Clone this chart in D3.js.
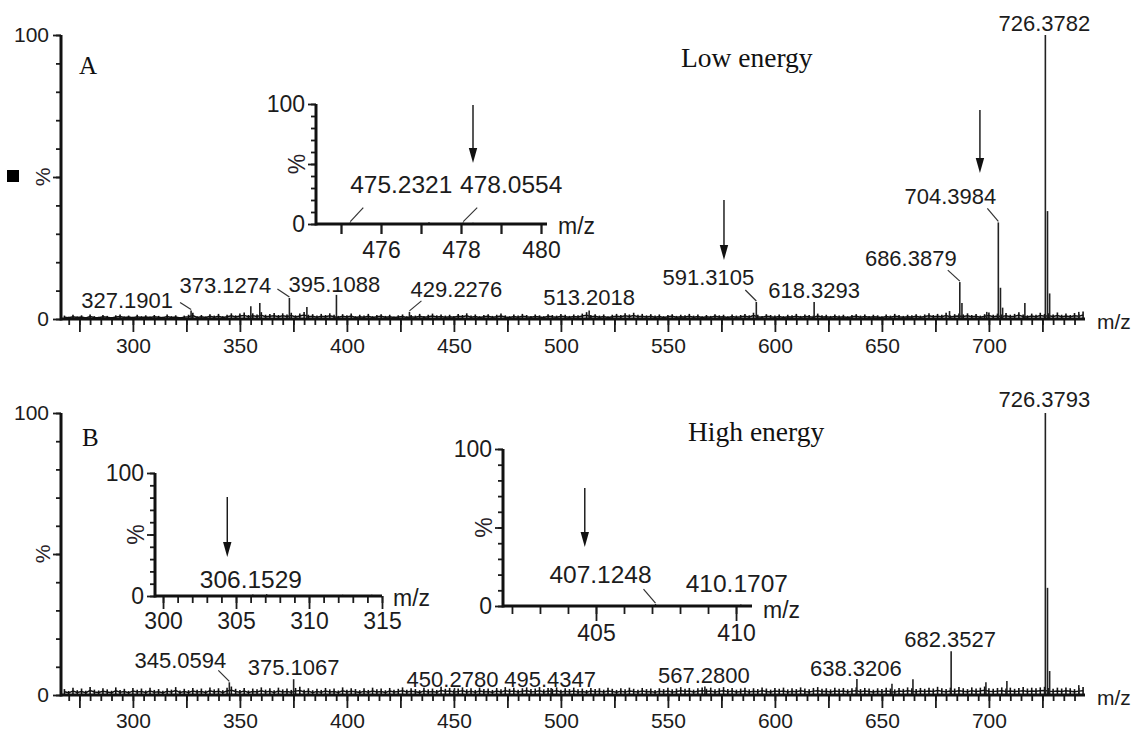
<!DOCTYPE html>
<html><head><meta charset="utf-8">
<script src="https://cdn.jsdelivr.net/npm/d3@7"></script>
<style>body{margin:0;background:#fff}</style>
</head><body><svg id="c" width="1134" height="731"></svg>
<script>
// ---------------- DATA ----------------
const mainTickLabels = [300,350,400,450,500,550,600,650,700];
const noiseStartMz = 268, noiseStepMz = 2;
const noiseA = [
1.2,0.8,1.5,0.9,1.3,0.7,1.6,1.0,0.8,1.4,
1.1,0.7,1.3,1.6,0.9,1.2,0.8,1.5,1.0,1.3,
0.9,1.4,1.1,0.8,1.6,1.0,1.3,0.7,1.2,1.5,
2.2,1.0,1.4,0.9,1.7,1.2,1.8,1.0,1.5,2.0,
1.3,1.9,2.3,1.4,2.0,1.6,2.4,1.5,1.8,2.1,
1.4,2.0,1.6,2.2,1.3,1.9,2.5,1.5,1.7,1.2,
1.8,1.4,2.0,1.5,1.1,1.7,1.3,1.9,1.0,1.5,
1.2,1.8,1.0,1.4,1.7,1.1,1.5,0.9,1.3,1.6,
1.0,1.4,1.2,1.8,1.1,1.5,1.9,1.3,1.6,1.2,
1.5,1.1,1.8,1.4,2.0,1.2,1.6,1.0,1.4,1.7,
1.1,1.5,1.9,1.3,1.0,1.6,1.2,1.8,1.4,1.1,
1.6,1.3,1.0,1.7,1.4,1.2,1.8,1.5,1.1,1.6,
1.3,1.9,2.4,1.4,1.7,1.2,1.6,1.0,1.5,1.8,
1.4,2.0,1.6,2.2,1.5,1.8,1.3,1.7,1.2,1.6,
1.0,1.4,1.7,1.1,1.5,1.3,1.8,1.2,1.6,1.0,
1.4,1.1,1.7,1.3,1.5,1.0,1.6,1.2,1.4,1.8,
1.3,2.2,1.5,1.1,1.7,1.4,1.2,1.6,1.0,1.5,
1.3,1.8,1.1,1.6,1.4,1.2,1.9,1.3,1.5,1.1,
1.6,1.2,1.5,1.0,1.4,1.7,1.2,1.6,1.1,1.5,
1.3,1.0,1.6,1.2,1.8,1.4,1.1,1.5,1.3,1.7,
1.2,1.6,2.0,1.4,1.8,1.5,2.2,1.3,1.7,1.9,
1.6,2.0,1.4,1.8,1.2,1.7,2.3,1.5,1.9,1.6,
2.1,1.5,1.8,2.4,1.6,1.3,1.9,1.5,2.2,1.8,
2.0,1.6,2.3,1.5,1.9,1.4,2.1,1.7,2.6];
const noiseB = [
2.1,1.4,2.6,1.7,2.3,1.5,2.8,1.9,1.6,2.4,
2.0,1.5,2.7,1.8,2.2,1.4,2.5,1.9,2.3,1.6,
2.6,1.8,2.1,1.5,2.4,1.9,2.8,1.6,2.2,1.7,
2.5,1.9,2.3,1.6,2.7,2.0,2.4,1.7,2.6,3.0,
2.2,1.8,2.5,1.6,2.3,2.0,2.7,1.9,2.4,1.7,
2.6,2.0,2.3,1.8,2.5,2.9,1.9,2.4,1.7,2.2,
1.8,2.5,2.0,2.3,1.6,2.7,1.9,2.4,2.1,1.7,
2.4,1.8,2.6,2.0,2.3,1.7,2.5,1.9,2.2,2.7,
1.9,2.4,2.1,1.7,2.6,2.0,2.3,1.8,2.9,2.2,
2.5,1.9,2.3,2.7,2.0,2.4,1.8,2.6,2.1,2.3,
1.8,2.5,2.0,2.8,2.2,2.6,1.9,2.4,2.7,2.1,
2.3,2.8,2.0,2.5,2.2,2.7,1.9,2.4,2.1,2.6,
2.0,2.3,1.8,2.5,2.1,2.4,1.9,2.6,2.2,1.8,
2.4,2.0,2.6,2.2,1.9,2.5,2.1,2.3,1.8,2.4,
2.1,2.6,2.0,2.3,2.8,2.2,2.5,1.9,2.4,2.7,
2.2,2.6,2.0,2.4,2.8,2.1,2.5,1.9,2.3,2.6,
2.0,2.4,2.1,2.7,2.3,1.9,2.5,2.2,2.6,2.0,
2.4,2.1,2.7,2.3,2.0,2.5,2.8,2.2,2.4,2.0,
2.6,2.2,2.5,2.0,2.4,2.7,2.1,2.5,2.3,1.9,
2.4,2.1,2.6,2.3,2.0,2.5,2.2,2.7,2.4,2.1,
2.5,2.2,2.6,2.3,2.9,2.4,2.1,2.6,2.3,2.8,
2.4,2.1,2.7,2.3,2.6,3.0,2.4,2.2,2.5,2.7,
2.3,2.6,2.2,2.5,2.8,2.3,2.6,2.4,2.7,2.9,
2.5,2.2,2.6,2.3,2.7,2.4,2.1,2.5,2.8];

const peakMzA  = [327.19,355.1,359.3,373.13,381.3,395.11,429.23,513.20,591.31,618.33,681.6,686.39,687.4,699.0,704.40,705.40,706.4,716.8,726.38,727.38,728.38,742.0];
const peakIntA = [3,4.5,5.6,7.4,4.2,8.5,2.5,3,6,6,2.8,13,5.6,2.5,34,11,4,5.6,100,38,9,2.5];
const labelsA  = ["327.1901","373.1274","395.1088","429.2276","513.2018","591.3105","618.3293","686.3879","704.3984","726.3782"];

const peakMzB  = [345.06,375.11,450.28,495.43,567.28,638.32,654.7,664.5,682.35,698.6,708.4,726.38,727.38,728.38,742.0];
const peakIntB = [4.5,5.6,2.5,2.5,3,5.7,4,5.6,15.5,4.5,5,100,38,8.5,3.5];
const labelsB  = ["345.0594","375.1067","450.2780","495.4347","567.2800","638.3206","682.3527","726.3793"];

const insetAMz  = [475.2321,477.2,478.0554,478.3,479.2];
const insetAInt = [1.2,1.5,1.2,1.0,0.8];
const insetALabels = ["475.2321","478.0554"];
const insetATickLabels = [476,478,480];

const insetB1Mz  = [306.1529,307.1,312.3,314.3];
const insetB1Int = [1.2,1.5,1.0,1.0];
const insetB1Labels = ["306.1529"];
const insetB1TickLabels = [300,305,310,315];

const insetB2Mz  = [407.1248,410.1707];
const insetB2Int = [1.2,1.0];
const insetB2Labels = ["407.1248","410.1707"];
const insetB2TickLabels = [405,410];

// arrows: [m/z, top %, bottom %]
const arrowsA  = [[576.2,41.9,20.8],[695.8,73.6,51.4]];
const arrowsIA = [[478.3,99.2,50.8]];
const arrowsB1 = [[304.4,80.5,31.7]];
const arrowsB2 = [[404.6,75.2,37.6]];

// ---------------- LAYOUT (label offsets: dx, dy, leader dx, leader dy) ----------------
const labelLayout = {
 "327.1901":[-64,-2,-11,-8], "373.1274":[-64,-5,-12,-9], "395.1088":[-2,-3],
 "429.2276":[47,-15,12,-11], "513.2018":[0,-5], "591.3105":[-48,-17,-11,-12],
 "618.3293":[0,-4], "686.3879":[-49,-16,-12,-12], "704.3984":[-48,-18,-11,-14],
 "726.3782":[-1,-4],
 "345.0594":[-49,-14,-11,-12], "375.1067":[0,-4], "450.2780":[-2,-1], "495.4347":[-1,-1],
 "567.2800":[-1,-4], "638.3206":[-1,-3], "682.3527":[-1,-4], "726.3793":[-1,-6],
 "475.2321":[51,-30,13,-15], "478.0554":[48,-30,14,-15],
 "306.1529":[-2,-6.5], "407.1248":[-55,-21,-12,-15], "410.1707":[-4,-12]
};

const svg = d3.select("#c");
svg.append("rect").attr("width",1134).attr("height",731).attr("fill","#fff");
const SANS = "'Liberation Sans', Arial, sans-serif";
const SERIF = "'Liberation Serif', 'Times New Roman', serif";
const INK = "#1c1c1c";

function panel(o){
  const g = svg.append("g");
  const x = d3.scaleLinear().domain(o.xDomain).range(o.xRange);
  const y = d3.scaleLinear().domain([0,100]).range(o.yRange);
  const y0 = y(0);
  // noise
  if(o.noise){
    const pts = o.noise.map((v,i)=>[noiseStartMz+i*noiseStepMz, v]);
    g.selectAll(null).data(pts).join("line")
      .attr("x1",d=>x(d[0])).attr("x2",d=>x(d[0])).attr("y1",y0).attr("y2",d=>y(d[1]))
      .attr("stroke","#111").attr("stroke-width",1.6);
    g.append("path").datum(pts).attr("fill","none").attr("stroke","#111").attr("stroke-width",1.5)
      .attr("d", d3.line().x(d=>x(d[0])).y(d=>y(d[1]*0.55)));
  }
  // peaks
  g.selectAll(null).data(o.mz.map((m,i)=>[m,o.int[i]])).join("line")
    .attr("x1",d=>x(d[0])).attr("x2",d=>x(d[0])).attr("y1",y0).attr("y2",d=>y(d[1]))
    .attr("stroke","#222").attr("stroke-width",o.peakW||1.6);
  // x axis ticks
  const minor = d3.range(o.xMinor[0], o.xDomain[1]+1e-6, o.xMinor[1]);
  const major = d3.range(o.xMajor[0], o.xDomain[1]+1e-6, o.xMajor[1]);
  const ax1 = g.append("g").attr("transform",`translate(0,${y0})`)
    .call(d3.axisBottom(x).tickValues(minor).tickSize(o.minorLen).tickFormat("").tickSizeOuter(0));
  const ax2 = g.append("g").attr("transform",`translate(0,${y0})`)
    .call(d3.axisBottom(x).tickValues(major).tickSize(o.majorLen).tickPadding(o.pad).tickSizeOuter(0)
      .tickFormat(d=> o.xLabels.some(v=>Math.abs(v-d)<1e-6) ? d3.format("d")(d) : ""));
  // y axis
  const ay1 = g.append("g").attr("transform",`translate(${o.xRange[0]},0)`)
    .call(d3.axisLeft(y).tickValues(d3.range(0,101,10)).tickSize(o.yMinorLen).tickFormat("").tickSizeOuter(0));
  const ay2 = g.append("g").attr("transform",`translate(${o.xRange[0]},0)`)
    .call(d3.axisLeft(y).tickValues([0,50,100]).tickSize(o.yMajorLen).tickPadding(o.yPad).tickSizeOuter(0)
      .tickFormat(d=> d===50 ? "" : d));
  [ax1,ax2,ay1,ay2].forEach(a=>{
    a.select(".domain").remove();
    a.selectAll("line").attr("stroke",INK).attr("stroke-width",o.tickW||1.8);
    a.selectAll("text").attr("fill",INK).attr("font-family",SANS).attr("font-size",o.tickFs);
  });
  // axis lines
  g.append("line").attr("x1",o.xRange[0]).attr("x2",o.xRange[1]).attr("y1",y0).attr("y2",y0)
    .attr("stroke","#111").attr("stroke-width",o.axisW);
  g.append("line").attr("x1",o.xRange[0]).attr("x2",o.xRange[0]).attr("y1",y0+o.axisW/2).attr("y2",y(100))
    .attr("stroke","#111").attr("stroke-width",o.axisW);
  // % label
  g.append("text").attr("transform",`translate(${o.xRange[0]+o.pctDx},${y(50)}) rotate(-90)`)
    .attr("text-anchor","middle").attr("dy","0.35em").attr("font-family",SANS).attr("font-size",o.tickFs)
    .attr("fill","#2a1f2a").text("%");
  // m/z
  g.append("text").attr("x",o.mzX).attr("y",o.mzY).attr("font-family",SANS).attr("font-size",o.mzFs)
    .attr("fill",INK).text("m/z");
  // peak labels
  o.labels.forEach(lab=>{
    const m = +lab;
    let bi = 0; o.mz.forEach((v,i)=>{ if(Math.abs(v-m)<Math.abs(o.mz[bi]-m)) bi=i; });
    const px = x(m), py = y(o.int[bi]);
    const L = labelLayout[lab];
    g.append("text").attr("x",px+L[0]).attr("y",py+L[1]).attr("text-anchor","middle")
      .attr("font-family",SANS).attr("font-size",o.labFs).attr("fill",INK).text(lab);
    if(L.length>2){
      g.append("line").attr("x1",px).attr("y1",py-1).attr("x2",px+L[2]).attr("y2",py+L[3])
        .attr("stroke","#333").attr("stroke-width",1.2);
    }
  });
  // arrows
  (o.arrows||[]).forEach(a=>{
    const ax = x(a[0]), yt = y(a[1]), yb = y(a[2]);
    g.append("line").attr("x1",ax).attr("x2",ax).attr("y1",yt).attr("y2",yb-12)
      .attr("stroke","#111").attr("stroke-width",1.4);
    g.append("path").attr("d",`M${ax-4.2},${yb-15}L${ax+4.2},${yb-15}L${ax},${yb}Z`).attr("fill","#111");
  });
  return {x,y};
}

// Panel A main
panel({xDomain:[266.4,744.9], xRange:[61,1085], yRange:[319,35], noise:noiseA,
  mz:peakMzA, int:peakIntA, labels:labelsA, arrows:arrowsA,
  xMinor:[270,5], xMajor:[275,25], xLabels:mainTickLabels, minorLen:6, majorLen:13, pad:6,
  yMinorLen:5, yMajorLen:8, yPad:4, tickFs:21, labFs:22, axisW:3,
  pctDx:-18, mzX:1097, mzY:329, mzFs:21});
// Panel B main
panel({xDomain:[266.4,744.9], xRange:[61,1085], yRange:[695,413], noise:noiseB,
  mz:peakMzB, int:peakIntB, labels:labelsB, arrows:[],
  xMinor:[270,5], xMajor:[275,25], xLabels:mainTickLabels, minorLen:6, majorLen:13, pad:5,
  yMinorLen:5, yMajorLen:8, yPad:4, tickFs:21, labFs:22, axisW:3,
  pctDx:-18, mzX:1097, mzY:705, mzFs:21});
// Inset A
panel({xDomain:[474.375,480.15], xRange:[316,547], yRange:[224,104],
  mz:insetAMz, int:insetAInt, labels:insetALabels, arrows:arrowsIA, peakW:1.4,
  xMinor:[475,1], xMajor:[475,1], xLabels:insetATickLabels, minorLen:10, majorLen:10, pad:8,
  yMinorLen:5, yMajorLen:8, yPad:3, tickFs:23, labFs:24.5, axisW:3,
  pctDx:-19, mzX:558, mzY:234, mzFs:23, tickW:1.8});
// Inset B1
panel({xDomain:[299.45,315.0], xRange:[155,382], yRange:[596,473],
  mz:insetB1Mz, int:insetB1Int, labels:insetB1Labels, arrows:arrowsB1, peakW:1.4,
  xMinor:[300,1], xMajor:[300,5], xLabels:insetB1TickLabels, minorLen:7, majorLen:13, pad:4,
  yMinorLen:5, yMajorLen:8, yPad:3, tickFs:23, labFs:24.5, axisW:3,
  pctDx:-19, mzX:393, mzY:606, mzFs:23, tickW:1.8});
// Inset B2
panel({xDomain:[401.68,410.57], xRange:[503,752], yRange:[606,449],
  mz:insetB2Mz, int:insetB2Int, labels:insetB2Labels, arrows:arrowsB2, peakW:1.4,
  xMinor:[402,1], xMajor:[405,5], xLabels:insetB2TickLabels, minorLen:8, majorLen:15, pad:4,
  yMinorLen:5, yMajorLen:8, yPad:3, tickFs:23, labFs:24.5, axisW:3,
  pctDx:-19, mzX:763, mzY:618, mzFs:23, tickW:1.8});

// Panel letters and titles
svg.append("text").attr("x",79).attr("y",74).attr("font-family",SERIF).attr("font-size",25).attr("fill","#111").text("A");
svg.append("text").attr("x",82).attr("y",446).attr("font-family",SERIF).attr("font-size",25).attr("fill","#111").text("B");
svg.append("text").attr("x",681).attr("y",67).attr("font-family",SERIF).attr("font-size",27.5).attr("fill","#111").text("Low energy");
svg.append("text").attr("x",688).attr("y",441).attr("font-family",SERIF).attr("font-size",27.5).attr("fill","#111").text("High energy");
// small marker square
svg.append("rect").attr("x",7).attr("y",170).attr("width",12).attr("height",12).attr("fill","#000");
</script></body></html>
